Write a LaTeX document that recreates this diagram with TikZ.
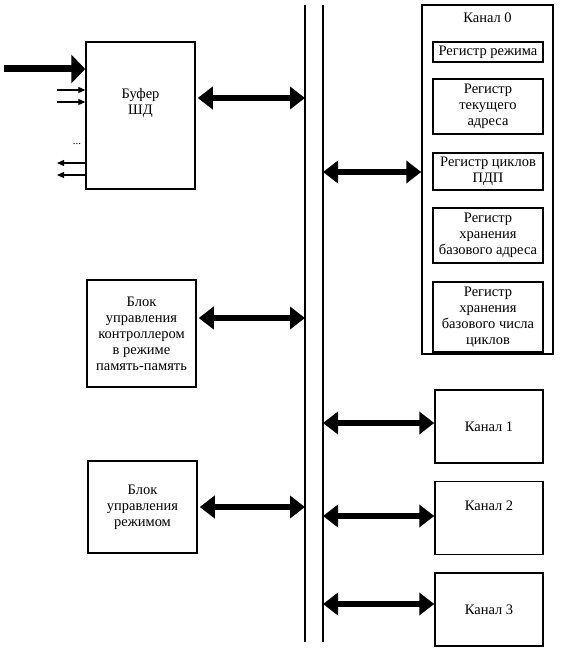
\documentclass[tikz,border=0pt]{standalone}
\usepackage{fontspec}
\setmainfont{Liberation Serif}
\usepackage{tikz}
\usetikzlibrary{arrows.meta}
\usetikzlibrary{positioning,calc}

\begin{document}
\begin{tikzpicture}[
  x=1pt, y=-1pt,
  every node/.style={font=\fontsize{14.5}{16}\selectfont},
  busArrow/.style={line width=6pt, {Triangle[length=15pt,width=22pt]}-{Triangle[length=15pt,width=22pt]}},
  bigArrow/.style={line width=7pt, -{Triangle[length=14pt,width=28pt]}},
  smallArrow/.style={line width=1.3pt, -{Triangle[length=7pt,width=6pt]}},
  busLine/.style={line width=1.5pt}
]
	\useasboundingbox (0,0) rectangle (565,660);

	\tikzstyle{block} = [rectangle, draw=black, line width=1.5pt, align=center, inner sep=2pt]
	\tikzstyle{register} = [rectangle, draw=black, line width=1.5pt, align=center, inner sep=1pt, minimum width=110pt]
	\tikzstyle{channel} = [rectangle, draw=black, line width=1.5pt, align=center, minimum width=108pt, minimum height=73pt]

	% system bus
	\coordinate (busLeftTop) at (305,5);
	\coordinate (busLeftBottom) at (305,642);
	\coordinate (busRightTop) at (323,5);
	\coordinate (busRightBottom) at (323,642);
	\draw[busLine] (busLeftTop) -- (busLeftBottom);
	\draw[busLine] (busRightTop) -- (busRightBottom);

	% left side blocks
	\node (buffer) [block, minimum width=109pt, minimum height=147pt] at (140.5,115.5) {};
	\node (bufferText) [align=center] at ([yshift=12.5pt]buffer.center) {Буфер\\ШД};
	\node (memoryBlock) [block, minimum width=109pt, minimum height=107pt] at (141.5,333.5) {Блок\\управления\\контроллером\\в режиме\\память-память};
	\node (modeBlock) [block, minimum width=109pt, minimum height=92pt] at (142.5,507) {Блок\\управления\\режимом};

	\coordinate (mainIn) at (4,69);
	\draw[bigArrow] (mainIn) -- (mainIn -| buffer.west);
	\foreach \y in {90,102} {
		\coordinate (in\y) at (57,\y);
		\draw[smallArrow] (in\y) -- (in\y -| buffer.west);
	}
	\node (dots) [font=\fontsize{11}{11}\selectfont] at (77,144) {...};
	\foreach \y in {163,175} {
		\coordinate (out\y) at (57,\y);
		\draw[smallArrow] (out\y -| buffer.west) -- (out\y);
	}

	% channel 0 with its registers
	\node (channel0) [block, minimum width=131pt, minimum height=349pt] at (487.5,179.5) {};
	\node (channel0Title) [anchor=north, yshift=-5pt] at (channel0.north) {Канал 0};
	\node (regMode) [register, minimum height=20pt] at (488,52) {Регистр режима};
	\node (regAddress) [register, minimum height=55pt, below=15.5pt of regMode] {Регистр\\текущего\\адреса};
	\node (regCycles) [register, minimum height=37pt, below=17.5pt of regAddress] {Регистр циклов\\ПДП};
	\node (regBaseAddress) [register, minimum height=55pt, below=16.5pt of regCycles] {Регистр\\хранения\\базового адреса};
	\node (regBaseCycles) [register, minimum height=70pt, below=17.5pt of regBaseAddress] {Регистр\\хранения\\базового числа\\циклов};

	% other channels
	\node (channel1) [channel] at (489,426.5) {Канал 1};
	\node (channel2) [channel] at (489,518) {};
	\node (channel2Text) at ([yshift=12pt]channel2.center) {Канал 2};
	\node (channel3) [channel] at (489,609.5) {Канал 3};

	% links to the bus
	\foreach \b/\dy in {buffer/17.5, memoryBlock/15.5, modeBlock/0} {
		\coordinate (port\b) at ([yshift=\dy pt, xshift=2pt]\b.east);
		\draw[busArrow] (port\b) -- (port\b -| busLeftTop);
	}
	\foreach \ch/\dy in {channel0/7.5, channel1/3.5, channel2/2, channel3/5.5} {
		\coordinate (port\ch) at ([yshift=\dy pt]\ch.west);
		\draw[busArrow] (port\ch -| busRightTop) -- (port\ch);
	}
\end{tikzpicture}
\end{document}
